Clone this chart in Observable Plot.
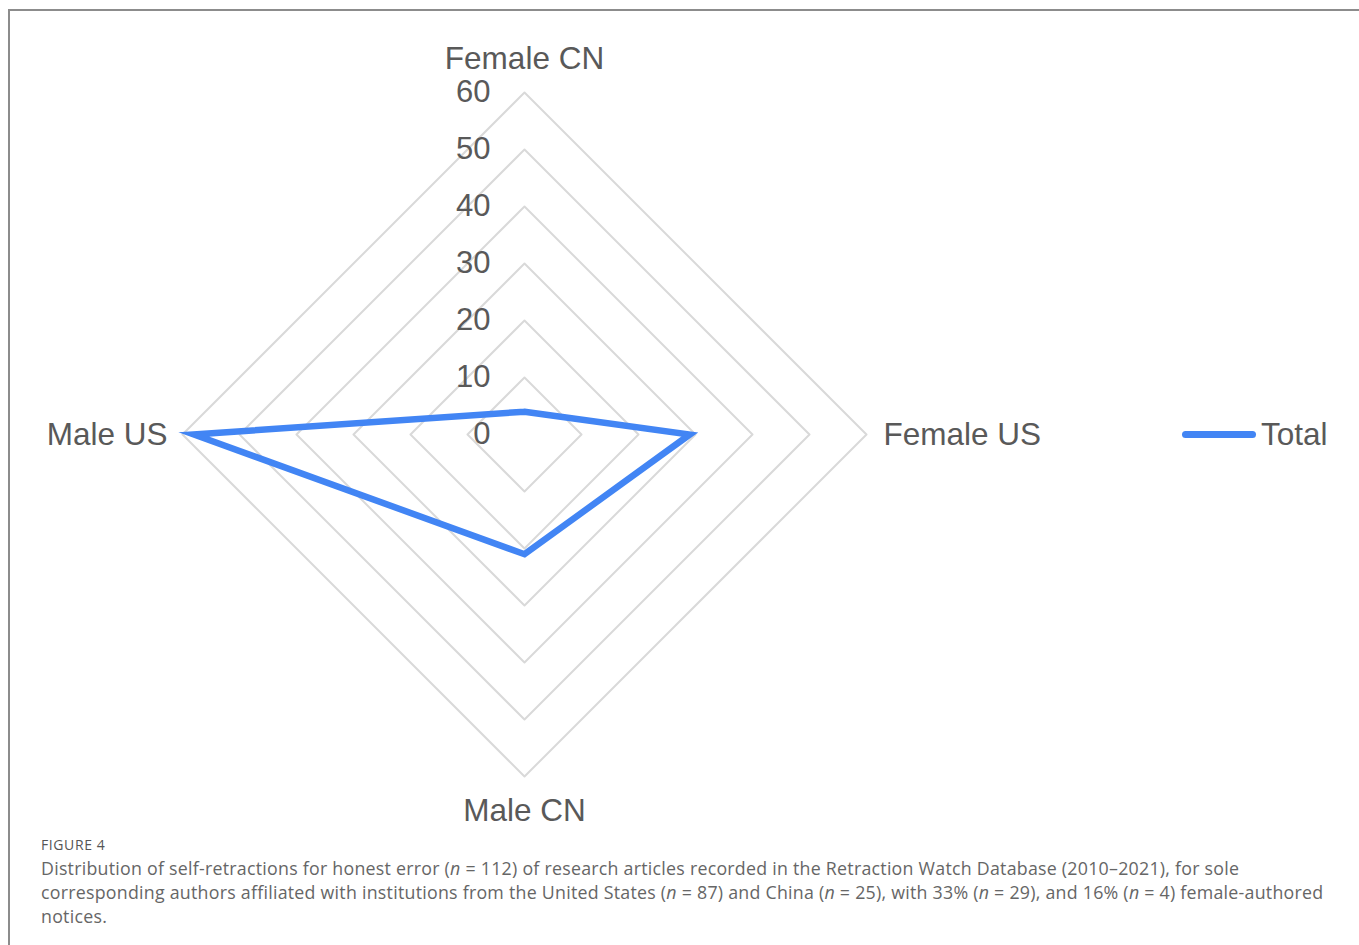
<!DOCTYPE html>
<html>
<head>
<meta charset="utf-8">
<script src="https://cdn.jsdelivr.net/npm/d3@7"></script>
<script src="https://cdn.jsdelivr.net/npm/@observablehq/plot@0.6"></script>
<style>
  html, body { margin: 0; padding: 0; background: #fff; width: 1359px; height: 945px; overflow: hidden; }
  #frame { position: absolute; left: 8px; top: 9px; width: 1351px; height: 936px; border-left: 2px solid #8c8c8c; border-top: 2px solid #8c8c8c; }
  #chart { position: absolute; left: 0; top: 0; }
  #legend { position: absolute; left: 1182px; top: 414px; font-family: "Liberation Sans", Arial, sans-serif; font-size: 31.5px; color: #595959; display: flex; align-items: center; height: 40px; }
  #legend .sw { width: 74px; height: 7px; border-radius: 4px; background: #4285f4; margin-right: 5px; }
  #caption { position: absolute; left: 41px; top: 835px; font-family: "Open Sans", Lato, sans-serif; color: #666; }
  #caption .fig { font-size: 14px; color: #555; letter-spacing: 0.6px; margin-bottom: 2px; }
  #caption .txt { font-size: 17.8px; letter-spacing: 0.25px; line-height: 24px; white-space: nowrap; }
</style>
</head>
<body>
<div id="frame"></div>
<div id="chart"></div>
<div id="legend"><span class="sw"></span><span>Total</span></div>
<div id="caption">
  <div class="fig">FIGURE 4</div>
  <div class="txt">Distribution of self-retractions for honest error (<i>n</i> = 112) of research articles recorded in the Retraction Watch Database (2010–2021), for sole<br>corresponding authors affiliated with institutions from the United States (<i>n</i> = 87) and China (<i>n</i> = 25), with 33% (<i>n</i> = 29), and 16% (<i>n</i> = 4) female-authored<br>notices.</div>
</div>
<script>
const categories = ["Female CN", "Female US", "Male CN", "Male US"];
const values = [4, 29, 21, 58];
const ticks = [0, 10, 20, 30, 40, 50, 60];
const seriesName = "Total";

// angle for each category: clockwise from top
const ang = i => Math.PI / 2 - i * 2 * Math.PI / categories.length;
const px = (r, i) => r * Math.cos(ang(i));
const py = (r, i) => r * Math.sin(ang(i));

const grid = [];
ticks.filter(t => t > 0).forEach(t => {
  for (let k = 0; k <= categories.length; k++) {
    const i = k % categories.length;
    grid.push({ring: t, x: px(t, i), y: py(t, i)});
  }
});

const series = [];
for (let k = 0; k <= categories.length; k++) {
  const i = k % categories.length;
  series.push({name: seriesName, x: px(values[i], i), y: py(values[i], i)});
}

const tickData = ticks.map(t => ({t, x: 0, y: t}));
const labelOff = [
  {dx: 0, dy: -34, anchor: "middle"},
  {dx: 17, dy: 0, anchor: "start"},
  {dx: 0, dy: 34, anchor: "middle"},
  {dx: -15, dy: 0, anchor: "end"}
];
const maxT = d3.max(ticks);
const catData = categories.map((c, i) => ({c, i, x: px(maxT, i), y: py(maxT, i)}));

const cx = 524, cy = 434, R = 342;
const font = "Liberation Sans, Arial, sans-serif";
const plot = Plot.plot({
  width: 1359,
  height: 830,
  margin: 0,
  style: {fontFamily: font, background: "transparent"},
  x: {domain: [-maxT, maxT], range: [cx - R, cx + R], axis: null},
  y: {domain: [-maxT, maxT], range: [cy + R, cy - R], axis: null},
  marks: [
    Plot.line(grid, {x: "x", y: "y", z: "ring", stroke: "#d9d9d9", strokeWidth: 2}),
    Plot.line(series, {x: "x", y: "y", z: "name", stroke: "#4285f4", strokeWidth: 6.5, strokeLinejoin: "miter", strokeMiterlimit: 10}),
    Plot.text(tickData, {x: "x", y: "y", text: d => String(d.t), dx: -34, textAnchor: "end", fontSize: 31, fill: "#595959"}),
    ...catData.map(d => Plot.text([d], {x: "x", y: "y", text: "c", dx: labelOff[d.i].dx, dy: labelOff[d.i].dy, textAnchor: labelOff[d.i].anchor, fontSize: 31.5, fill: "#595959"}))
  ]
});
document.getElementById("chart").appendChild(plot);
</script>
</body>
</html>
